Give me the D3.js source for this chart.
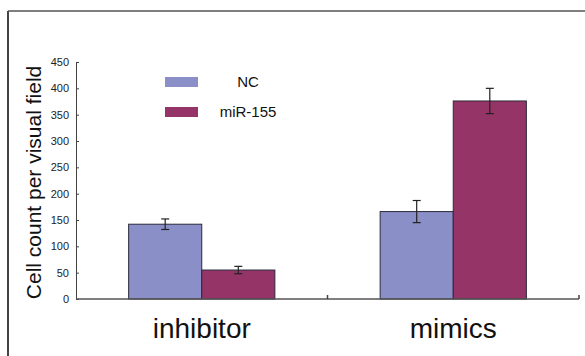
<!DOCTYPE html>
<html><head><meta charset="utf-8">
<script src="https://cdn.jsdelivr.net/npm/d3@7"></script>
<style>body{margin:0;background:#fff}svg{display:block}</style>
</head><body>
<svg id="c" width="585" height="356"></svg>
<script>
const categories = ["inhibitor", "mimics"];
const seriesNames = ["NC", "miR-155"];
const ncValues = [142, 166];
const ncErrors = [10, 21];
const mirValues = [55, 376];
const mirErrors = [7, 24];
const yTicks = [0, 50, 100, 150, 200, 250, 300, 350, 400, 450];
const colors = ["#8a8fc8", "#953467"];

const svg = d3.select("#c");
const W = 585, H = 356;
const m = {l: 76, r: 579, t: 62, b: 299};

// frame
svg.append("line").attr("x1", 8).attr("x2", 8).attr("y1", 11).attr("y2", H).attr("stroke", "#444").attr("stroke-width", 2);
svg.append("line").attr("x1", 8).attr("x2", W).attr("y1", 11).attr("y2", 11).attr("stroke", "#555").attr("stroke-width", 1.5);

const y = d3.scaleLinear().domain([0, 450]).range([m.b, m.t]);
const x = d3.scaleBand().domain(categories).range([m.l, m.r]).paddingInner(0).paddingOuter(0);
const xs = d3.scaleBand().domain(seriesNames).range([0, x.bandwidth()]).paddingInner(0).paddingOuter(0.72);

const data = categories.map((c, i) => ({c, vals: [
  {s: "NC", v: ncValues[i], e: ncErrors[i]},
  {s: "miR-155", v: mirValues[i], e: mirErrors[i]}
]}));

const g = svg.append("g").selectAll("g").data(data).join("g")
  .attr("transform", d => `translate(${x(d.c)},0)`);
g.selectAll("rect").data(d => d.vals).join("rect")
  .attr("x", d => xs(d.s)).attr("width", xs.bandwidth())
  .attr("y", d => y(d.v)).attr("height", d => y(0) - y(d.v))
  .attr("fill", (d, i) => colors[i]).attr("stroke", "#2a2a3a").attr("stroke-width", 1);

// error bars
const eb = g.selectAll("g.eb").data(d => d.vals).join("g").attr("class", "eb")
  .attr("stroke", "#222").attr("stroke-width", 1.2);
eb.append("line").attr("x1", d => xs(d.s) + xs.bandwidth() / 2).attr("x2", d => xs(d.s) + xs.bandwidth() / 2)
  .attr("y1", d => y(d.v + d.e)).attr("y2", d => y(d.v - d.e));
eb.append("line").attr("x1", d => xs(d.s) + xs.bandwidth() / 2 - 4).attr("x2", d => xs(d.s) + xs.bandwidth() / 2 + 4)
  .attr("y1", d => y(d.v + d.e)).attr("y2", d => y(d.v + d.e));
eb.append("line").attr("x1", d => xs(d.s) + xs.bandwidth() / 2 - 4).attr("x2", d => xs(d.s) + xs.bandwidth() / 2 + 4)
  .attr("y1", d => y(d.v - d.e)).attr("y2", d => y(d.v - d.e));

// y axis
const ya = svg.append("g").attr("transform", `translate(${m.l},0)`)
  .call(d3.axisRight(y).tickValues(yTicks).tickSize(3).tickSizeOuter(0).tickFormat(d3.format("d")));
ya.select(".domain").attr("stroke", "#444");
ya.selectAll(".tick line").attr("stroke", "#444");
ya.selectAll("text").attr("x", -7).attr("text-anchor", "end")
  .attr("font-family", "Liberation Sans, Arial, sans-serif").attr("font-size", 11).attr("fill", "#222");

// x axis
const xa = svg.append("g").attr("transform", `translate(0,${m.b})`);
xa.append("line").attr("x1", m.l).attr("x2", m.r).attr("stroke", "#555").attr("stroke-width", 1.5);
xa.selectAll("line.t").data([m.l + x.bandwidth(), m.r]).join("line").attr("class", "t")
  .attr("x1", d => d).attr("x2", d => d).attr("y1", 0).attr("y2", -4).attr("stroke", "#444").attr("stroke-width", 1.5);
xa.selectAll("text").data(categories).join("text")
  .attr("x", d => x(d) + x.bandwidth() / 2).attr("y", 39).attr("text-anchor", "middle")
  .attr("font-family", "Liberation Sans, Arial, sans-serif").attr("font-size", 28).attr("fill", "#111")
  .text(d => d);

// y label
svg.append("text").attr("transform", `translate(41,${(m.t + m.b) / 2 + 2}) rotate(-90)`)
  .attr("text-anchor", "middle").attr("font-family", "Liberation Sans, Arial, sans-serif")
  .attr("font-size", 21).attr("fill", "#111").text("Cell count per visual field");

// legend
const lg = svg.append("g").selectAll("g").data(seriesNames).join("g")
  .attr("transform", (d, i) => `translate(165,${77 + i * 30})`);
lg.append("rect").attr("width", 33).attr("height", 10).attr("fill", (d, i) => colors[i]);
lg.append("text").attr("x", 83).attr("y", 10).attr("text-anchor", "middle")
  .attr("font-family", "Liberation Sans, Arial, sans-serif").attr("font-size", 15).attr("fill", "#111")
  .text(d => d);
</script>
</body></html>
